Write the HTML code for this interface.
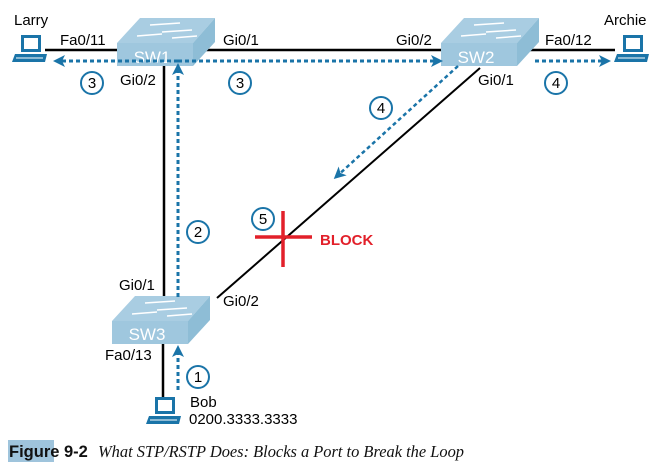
<!DOCTYPE html>
<html><head><meta charset="utf-8"><style>
body{margin:0;background:#fff;}
svg{display:block;font-family:"Liberation Sans",sans-serif;}
</style></head><body>
<svg width="664" height="474" viewBox="0 0 664 474" xmlns="http://www.w3.org/2000/svg">
<defs>
<marker id="ah" markerWidth="12" markerHeight="12" refX="9" refY="6" orient="auto" markerUnits="userSpaceOnUse">
<path d="M0,0 L12,6 L0,12 L3,6 z" fill="#1a74a8"/>
</marker>
<g id="sw">
<polygon points="0,25 23,0 98,0 76,25" fill="#a9cde2"/>
<polygon points="76,25 98,0 98,24 76,48" fill="#8ebdd6"/>
<rect x="0" y="25" width="76" height="23" fill="#9fc7de"/>
<g stroke="#fff" stroke-width="1.5" fill="#fff">
<line x1="33" y1="7" x2="63" y2="5"/><line x1="45" y1="14" x2="75" y2="12"/>
<line x1="20" y1="18" x2="45" y2="16"/><line x1="55" y1="20" x2="80" y2="18"/>
</g>
</g>
<g id="pc">
<rect x="9" y="0" width="20" height="17" fill="#1a74a8"/>
<rect x="12" y="3" width="14" height="11" fill="#fff"/>
<polygon points="3,19 35,19 33,27 0,27" fill="#1a74a8"/>
<line x1="4" y1="23" x2="31" y2="23" stroke="#fff" stroke-width="1"/>
</g>
</defs>

<g stroke="#000" stroke-width="2.5" fill="none">
<line x1="45" y1="50" x2="117" y2="50"/>
<line x1="205" y1="50" x2="441" y2="50"/>
<line x1="530" y1="50" x2="615" y2="50"/>
<line x1="164" y1="66" x2="164" y2="298"/>
<line x1="163" y1="344" x2="163" y2="400"/>
</g>
<line x1="480" y1="68" x2="217" y2="298" stroke="#000" stroke-width="2"/>

<use href="#sw" x="117" y="18"/>
<use href="#sw" x="441" y="18"/>
<use href="#sw" x="112" y="296"/>
<g fill="#fff" font-size="17" text-anchor="middle">
<text x="152" y="63">SW1</text><text x="476" y="63">SW2</text><text x="147" y="340">SW3</text>
</g>

<g stroke="#1a74a8" stroke-width="3" stroke-dasharray="4,3" fill="none" marker-end="url(#ah)">
<line x1="178" y1="61" x2="56" y2="61"/>
<line x1="178" y1="61" x2="440" y2="61"/>
<line x1="178" y1="297" x2="178" y2="66"/>
<line x1="178" y1="390" x2="178" y2="348"/>
<line x1="535" y1="61" x2="608" y2="61"/>
</g>
<line x1="458" y1="66" x2="336" y2="177" stroke="#1a74a8" stroke-width="2.5" stroke-dasharray="4,3" marker-end="url(#ah)"/>

<use href="#pc" x="12" y="35"/>
<use href="#pc" x="614" y="35"/>
<use href="#pc" x="146" y="397"/>

<g stroke="#e2202a" stroke-width="3.5">
<line x1="255" y1="237" x2="312" y2="237"/><line x1="283" y1="211" x2="283" y2="267"/>
</g>
<text x="320" y="245" fill="#e2202a" font-weight="bold" font-size="15">BLOCK</text>

<g fill="#fff" stroke="#1a74a8" stroke-width="2">
<circle cx="92" cy="83" r="11"/><circle cx="240" cy="83" r="11"/><circle cx="556" cy="83" r="11"/>
<circle cx="381" cy="108" r="11"/><circle cx="263" cy="219" r="11"/><circle cx="198" cy="232" r="11"/>
<circle cx="198" cy="377" r="11"/>
</g>
<g font-size="15" text-anchor="middle" fill="#000">
<text x="92" y="88">3</text><text x="240" y="88">3</text><text x="556" y="88">4</text>
<text x="381" y="113">4</text><text x="263" y="224">5</text><text x="198" y="237">2</text>
<text x="198" y="382">1</text>
</g>

<g font-size="15" fill="#000">
<text x="14" y="25">Larry</text>
<text x="604" y="25">Archie</text>
<text x="60" y="45">Fa0/11</text>
<text x="223" y="45">Gi0/1</text>
<text x="120" y="85">Gi0/2</text>
<text x="396" y="45">Gi0/2</text>
<text x="545" y="45">Fa0/12</text>
<text x="478" y="85">Gi0/1</text>
<text x="119" y="290">Gi0/1</text>
<text x="223" y="306">Gi0/2</text>
<text x="105" y="360">Fa0/13</text>
<text x="190" y="407">Bob</text>
<text x="189" y="424">0200.3333.3333</text>
</g>

<rect x="8" y="440" width="46" height="22" fill="#9fc4dc"/>
<text x="9" y="457" font-size="16.5" font-weight="bold" fill="#111">Figure 9-2</text>
<text x="98" y="457" font-size="16.5" font-style="italic" font-family="'Liberation Serif',serif" fill="#111" textLength="366" lengthAdjust="spacingAndGlyphs">What STP/RSTP Does: Blocks a Port to Break the Loop</text>
</svg>
</body></html>
